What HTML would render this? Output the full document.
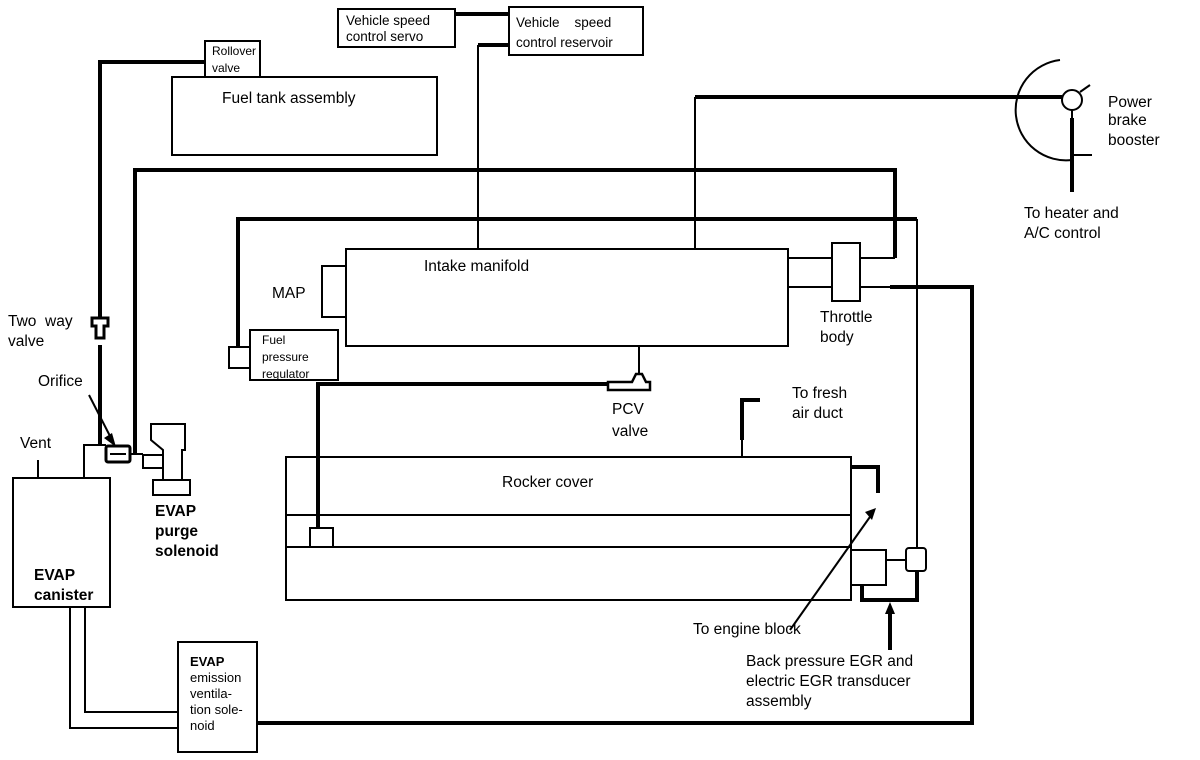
<!DOCTYPE html>
<html><head><meta charset="utf-8"><style>
html,body{margin:0;padding:0;background:#fff;}
svg{display:block}
text{font-family:"Liberation Sans",sans-serif;fill:#000}
</style></head><body>
<svg width="1200" height="760" viewBox="0 0 1200 760" xmlns="http://www.w3.org/2000/svg">
<g fill="none" stroke="#000" stroke-width="2">
<rect x="338" y="9" width="117" height="38"/>
<rect x="509" y="7" width="134" height="48"/>
<rect x="205" y="41" width="55" height="36"/>
<rect x="172" y="77" width="265" height="78" fill="#fff"/>
<rect x="346" y="249" width="442" height="97"/>
<rect x="322" y="266" width="24" height="51"/>
<rect x="250" y="330" width="88" height="50"/>
<rect x="229" y="347" width="21" height="21"/>
<rect x="832" y="243" width="28" height="58"/>
<line x1="788" y1="258" x2="832" y2="258"/>
<line x1="788" y1="287" x2="832" y2="287"/>
<rect x="286" y="457" width="565" height="143"/>
<line x1="286" y1="515" x2="851" y2="515"/>
<line x1="286" y1="547" x2="851" y2="547"/>
<rect x="310" y="528" width="23" height="19"/>
<rect x="851" y="550" width="35" height="35"/>
<rect x="906" y="548" width="20" height="23" rx="3"/>
<rect x="13" y="478" width="97" height="129"/>
<rect x="178" y="642" width="79" height="110"/>
<path d="M151 424 H185 V450 H182 V480 H163 V450 L151 440 Z"/>
<rect x="153" y="480" width="37" height="15"/>
<path d="M143 455 H163 V468 H143 Z"/>
<rect x="106" y="446" width="24" height="16" rx="2" stroke-width="3"/>
<line x1="110" y1="454" x2="126" y2="454"/>
<path d="M84 478 V445 H106"/>
<line x1="38" y1="460" x2="38" y2="478"/>
<path d="M70 607 V728 H178"/>
<path d="M85 607 V712 H178"/>
<line x1="130" y1="454" x2="143" y2="454"/>
<line x1="478" y1="45" x2="478" y2="249"/>
<line x1="695" y1="97" x2="695" y2="249"/>
<line x1="860" y1="258" x2="895" y2="258"/>
<line x1="639" y1="346" x2="639" y2="382"/>
<path d="M742 457 V400"/>
<line x1="886" y1="560" x2="906" y2="560"/>
<line x1="917" y1="219" x2="917" y2="548"/>
<line x1="860" y1="287" x2="890" y2="287"/>
<line x1="790" y1="630" x2="872" y2="514"/>
<circle cx="1072" cy="100" r="10"/>
<path d="M1060 60 A50 50 0 0 0 1072 160"/>
<line x1="1080" y1="92" x2="1090" y2="85"/>
<line x1="1072" y1="155" x2="1092" y2="155"/>
<line x1="1072" y1="110" x2="1072" y2="118"/>
</g>
<g fill="none" stroke="#000" stroke-width="4">
<line x1="455" y1="14" x2="509" y2="14"/>
<path d="M509 45 H478"/>
<path d="M205 62 H100 V318"/>
<path d="M100 345 V445"/>
<path d="M135 455 V170 H895 V258"/>
<path d="M238 347 V219 H478"/>
<path d="M478 219 H917"/>
<path d="M695 97 H1062"/>
<line x1="1072" y1="118" x2="1072" y2="192"/>
<path d="M890 287 H972 V723 H257"/>
<path d="M318 528 V384 H610"/>
<path d="M742 440 V400 H760"/>
<path d="M851 467 H878 V493"/>
<path d="M917 571 V600 H862 V585"/>
<line x1="890" y1="650" x2="890" y2="610"/>
</g>
<path d="M92 318 H108 V326 H104 V338 H96 V326 H92 Z" fill="#fff" stroke="#000" stroke-width="3"/>
<path d="M608 382 H632 L636 374 H642 L646 382 H650 V390 H608 Z" fill="#fff" stroke="#000" stroke-width="2.5"/>
<path d="M876 508 L872 520 L865 512 Z" fill="#000"/>
<path d="M890 602 L885 614 L895 614 Z" fill="#000"/>
<g font-size="14">
<text x="346" y="25" font-size="13.5">Vehicle speed</text>
<text x="346" y="41" font-size="13.5">control servo</text>
<text x="516" y="27" font-size="13.5">Vehicle&#160;&#160;&#160; speed</text>
<text x="516" y="47" font-size="13.5">control reservoir</text>
<text x="212" y="55" font-size="12">Rollover</text>
<text x="212" y="72" font-size="12">valve</text>
<text x="222" y="103" font-size="15.5">Fuel tank assembly</text>
<text x="424" y="271" font-size="15.5">Intake manifold</text>
<text x="272" y="298" font-size="15.5">MAP</text>
<text x="262" y="344" font-size="12">Fuel</text>
<text x="262" y="361" font-size="12">pressure</text>
<text x="262" y="378" font-size="12">regulator</text>
<text x="820" y="322" font-size="15.5">Throttle</text>
<text x="820" y="342" font-size="15.5">body</text>
<text x="1108" y="107" font-size="15.5">Power</text>
<text x="1108" y="125" font-size="15.5">brake</text>
<text x="1108" y="145" font-size="15.5">booster</text>
<text x="1024" y="218" font-size="15.5">To heater and</text>
<text x="1024" y="238" font-size="15.5">A/C control</text>
<text x="8" y="326" font-size="15.5">Two&#160; way</text>
<text x="8" y="346" font-size="15.5">valve</text>
<text x="38" y="386" font-size="15.5">Orifice</text>
<text x="20" y="448" font-size="15.5">Vent</text>
<text x="612" y="414" font-size="15.5">PCV</text>
<text x="612" y="436" font-size="15.5">valve</text>
<text x="792" y="398" font-size="15.5">To fresh</text>
<text x="792" y="418" font-size="15.5">air duct</text>
<text x="502" y="487" font-size="15.5">Rocker cover</text>
<text x="155" y="516" font-size="15.5" font-weight="bold">EVAP</text>
<text x="155" y="536" font-size="15.5" font-weight="bold">purge</text>
<text x="155" y="556" font-size="15.5" font-weight="bold">solenoid</text>
<text x="34" y="580" font-size="15.5" font-weight="bold">EVAP</text>
<text x="34" y="600" font-size="15.5" font-weight="bold">canister</text>
<text x="693" y="634" font-size="15.5">To engine block</text>
<text x="746" y="666" font-size="15.5">Back pressure EGR and</text>
<text x="746" y="686" font-size="15.5">electric EGR transducer</text>
<text x="746" y="706" font-size="15.5">assembly</text>
<text x="190" y="666" font-size="13" font-weight="bold">EVAP</text>
<text x="190" y="682" font-size="13">emission</text>
<text x="190" y="698" font-size="13">ventila-</text>
<text x="190" y="714" font-size="13">tion sole-</text>
<text x="190" y="730" font-size="13">noid</text>
</g>
<line x1="89" y1="395" x2="112" y2="440" stroke="#000" stroke-width="2"/>
<path d="M116 447 L104 438 L112 433 Z" fill="#000"/>
</svg>
</body></html>
